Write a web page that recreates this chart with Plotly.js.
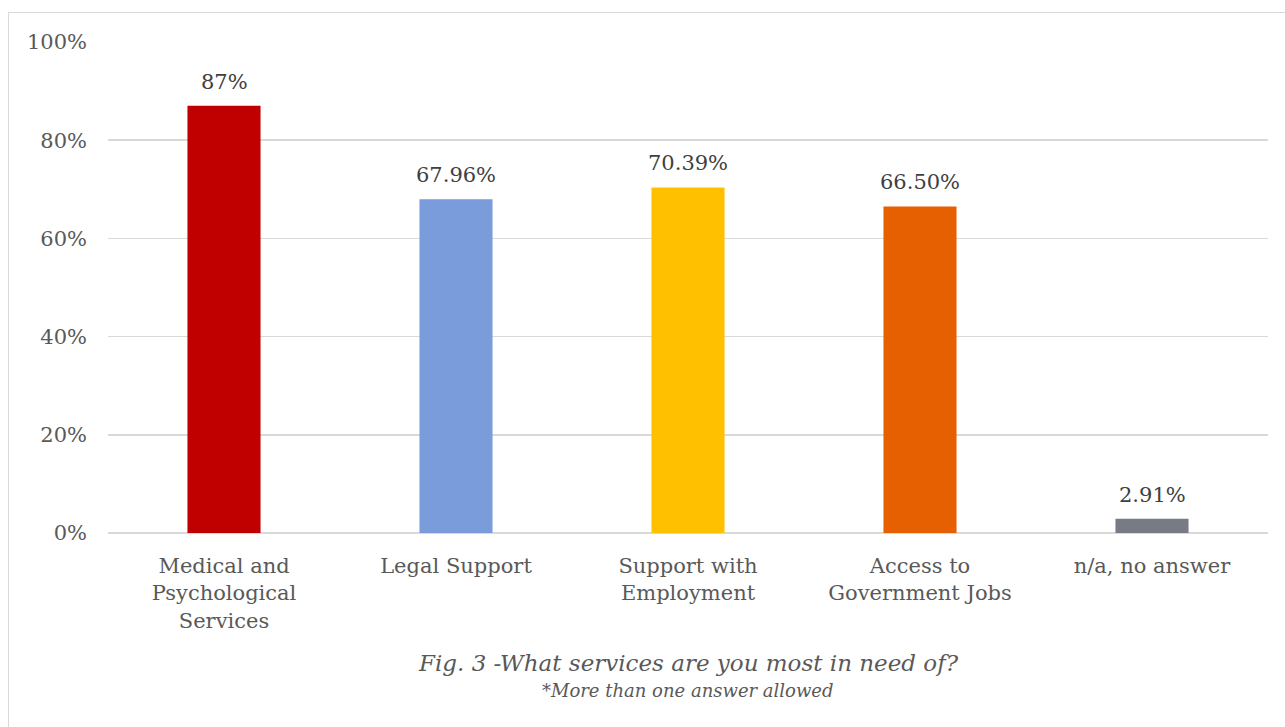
<!DOCTYPE html>
<html>
<head>
<meta charset="utf-8">
<script src="https://cdn.plot.ly/plotly-3.0.1.min.js"></script>
<style>
html,body{margin:0;padding:0;background:#fff;}
#chart{width:1285px;height:727px;position:absolute;left:0;top:0;}
#frame{position:absolute;left:8px;top:12px;width:1300px;height:740px;border:1.5px solid #d9d9d9;pointer-events:none;}
</style>
</head>
<body>
<div id="chart"></div>
<div id="frame"></div>
<script>
const categories = ["Medical and<br>Psychological<br>Services", "Legal Support", "Support with<br>Employment", "Access to<br>Government Jobs", "n/a, no answer"];
const values = [0.87, 0.6796, 0.7039, 0.665, 0.0291];
const valueLabels = ["87%", "67.96%", "70.39%", "66.50%", "2.91%"];
const barColors = ["#C00000", "#7A9CDA", "#FFC000", "#E65F00", "#777B84"];
const yTickVals = [0, 0.2, 0.4, 0.6, 0.8, 1.0];
const yTickText = ["0%", "20%", "40%", "60%", "80%", "100%"];
const titleText = "<i>Fig. 3 -What services are you most in need of?</i>";
const subtitleText = "<i>*More than one answer allowed</i>";

const FONT = "'DejaVu Serif', 'Liberation Serif', serif";

const trace = {
  type: "bar",
  x: categories,
  y: values,
  marker: {color: barColors},
  width: 0.315,
  hoverinfo: "none"
};

const annotations = categories.map((c, i) => ({
  x: c, y: values[i], xref: "x", yref: "y",
  text: valueLabels[i], showarrow: false,
  yanchor: "bottom", yshift: 10,
  font: {family: FONT, size: 21, color: "#404040"}
}));
annotations.push({
  xref: "paper", yref: "paper", x: 0.5, y: -0.265, yanchor: "middle",
  text: titleText, showarrow: false,
  font: {family: FONT, size: 23, color: "#595959"}
});
annotations.push({
  xref: "paper", yref: "paper", x: 0.5, y: -0.32, yanchor: "middle",
  text: subtitleText, showarrow: false,
  font: {family: FONT, size: 18, color: "#595959"}
});

const layout = {
  width: 1285, height: 727,
  margin: {l: 108, r: 17, t: 42, b: 194},
  paper_bgcolor: "#fff", plot_bgcolor: "#fff",
  showlegend: false,
  font: {family: FONT, size: 21, color: "#595959"},
  xaxis: {
    type: "category",
    showgrid: false, zeroline: false, showline: false,
    ticks: "", ticklabelstandoff: 18,
    tickfont: {family: FONT, size: 21, color: "#595959"}
  },
  yaxis: {
    range: [0, 1.0],
    tickvals: yTickVals, ticktext: yTickText,
    showgrid: true, gridcolor: "#d9d9d9", gridwidth: 1.5,
    zeroline: true, zerolinecolor: "#d9d9d9", zerolinewidth: 1.5,
    showline: false, ticks: "", ticklabelstandoff: 20,
    tickfont: {family: FONT, size: 21, color: "#595959"}
  },
  annotations: annotations,
  bargap: 0.685
};

Plotly.newPlot("chart", [trace], layout, {displayModeBar: false, staticPlot: true});
</script>
</body>
</html>
